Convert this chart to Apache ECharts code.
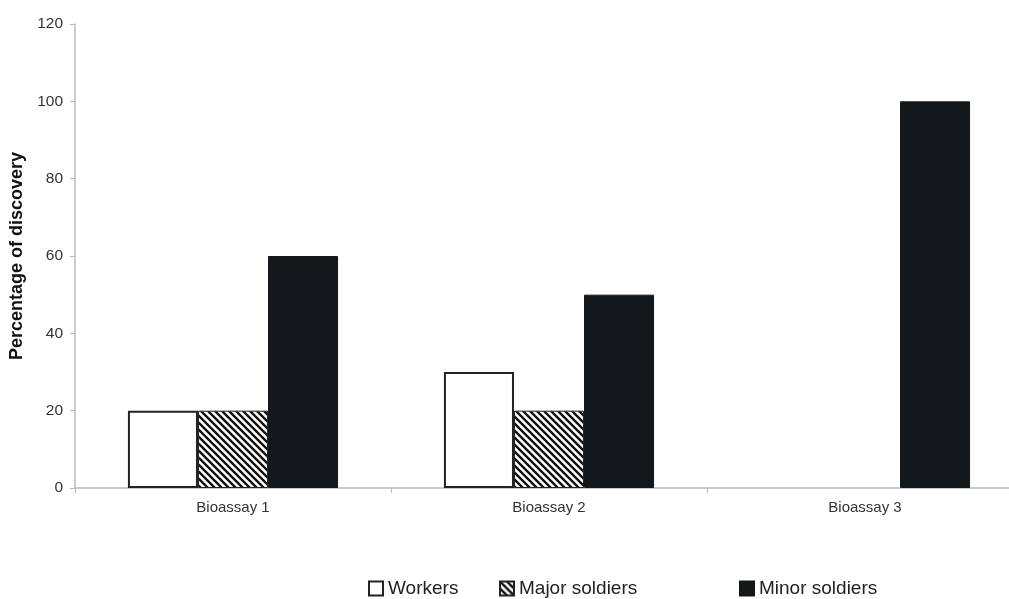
<!DOCTYPE html>
<html>
<head>
<meta charset="utf-8">
<script src="https://cdn.jsdelivr.net/npm/echarts@6/dist/echarts.min.js"></script>
<style>
html,body{margin:0;padding:0;background:#fff;overflow:hidden;}
#c{width:1009px;height:599px;}
</style>
</head>
<body>
<div id="c"></div>
<script>
const categories = ['Bioassay 1', 'Bioassay 2', 'Bioassay 3'];
const seriesNames = ['Workers', 'Major soldiers', 'Minor soldiers'];
const workers = [20, 30, 0];
const majorSoldiers = [20, 20, 0];
const minorSoldiers = [60, 50, 100];
const yTicks = [0, 20, 40, 60, 80, 100, 120];

function hatch() {
  const s = 7;
  const cv = document.createElement('canvas');
  cv.width = s; cv.height = s;
  const g = cv.getContext('2d');
  g.fillStyle = '#fff';
  g.fillRect(0, 0, s, s);
  g.strokeStyle = '#111';
  g.lineWidth = 2.4;
  g.beginPath();
  g.moveTo(-1, -1); g.lineTo(s + 1, s + 1);
  g.moveTo(-1, s - 1); g.lineTo(1, s + 1);
  g.moveTo(s - 1, -1); g.lineTo(s + 1, 1);
  g.stroke();
  return cv;
}
const hatchImg = hatch();

// zero-height bars are not drawn in the reference: hide their outline
function withHiddenZeros(arr) {
  return arr.map(v => v === 0 ? {value: v, itemStyle: {borderWidth: 0, opacity: 0}} : v);
}

const chart = echarts.init(document.getElementById('c'));
const fontMain = 'Liberation Sans, Arial, sans-serif';
function legendAt(name, left) {
  return {
    data: [{name: name, icon: 'rect'}], left: left, top: 579, itemWidth: 14, itemHeight: 14, itemGap: 0,
    textStyle: {fontFamily: fontMain, fontSize: 19, color: '#222', padding: [0, 0, 0, 0]},
    selectedMode: false, padding: 0
  };
}
chart.setOption({
  animation: false,
  backgroundColor: '#fff',
  legend: [legendAt('Workers', 368), legendAt('Major soldiers', 499), legendAt('Minor soldiers', 739)],
  grid: {left: 75, top: 24, width: 948, height: 464, containLabel: false, outerBoundsMode: 'none'},
  xAxis: {
    type: 'category', data: categories,
    axisLine: {lineStyle: {color: '#bbb', width: 1.5}},
    axisTick: {show: true, length: 5, lineStyle: {color: '#bbb'}},
    axisLabel: {fontFamily: fontMain, fontSize: 15, color: '#333', margin: 12}
  },
  yAxis: {
    type: 'value', min: 0, max: 120, interval: 20,
    name: 'Percentage of discovery', nameLocation: 'middle', nameGap: 40,
    nameTextStyle: {fontFamily: fontMain, fontSize: 18, fontWeight: 'bold', color: '#111'},
    axisLine: {show: true, lineStyle: {color: '#bbb', width: 1.5}},
    axisTick: {show: true, length: 5, lineStyle: {color: '#bbb'}},
    splitLine: {show: false},
    axisLabel: {fontFamily: fontMain, fontSize: 15.5, color: '#333', margin: 12,
      formatter: v => yTicks.indexOf(v) >= 0 ? String(v) : ''}
  },
  series: [
    {name: seriesNames[0], type: 'bar', data: withHiddenZeros(workers), barGap: '0%', barCategoryGap: '33.5%',
     itemStyle: {color: '#fff', borderColor: '#222', borderWidth: 2}},
    {name: seriesNames[1], type: 'bar', data: withHiddenZeros(majorSoldiers),
     itemStyle: {color: {image: hatchImg, repeat: 'repeat'}, borderColor: '#222', borderWidth: 1}},
    {name: seriesNames[2], type: 'bar', data: withHiddenZeros(minorSoldiers),
     itemStyle: {color: '#15181a', borderColor: '#15181a', borderWidth: 1}}
  ]
});
</script>
</body>
</html>
